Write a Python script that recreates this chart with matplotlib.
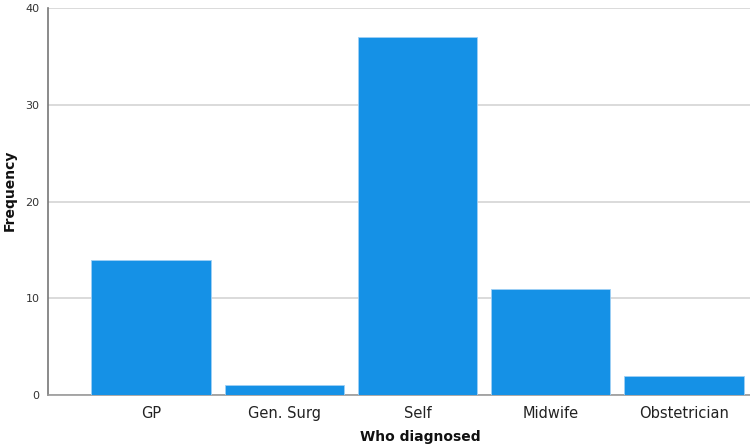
import matplotlib
matplotlib.use("Agg")
import matplotlib.pyplot as plt

categories = ["GP", "Gen. Surg", "Self", "Midwife", "Obstetrician"]
frequency = [14, 1, 37, 11, 2]
y_ticks = [0, 10, 20, 30, 40]

plt.rcParams['font.family'] = ['DejaVu Sans']

fig = plt.figure(figsize=(7.5, 4.48), dpi=100)
ax = fig.add_axes([0.064, 0.118, 0.936, 0.864])

x = list(range(len(categories)))
ax.bar(x, frequency, width=0.895, color="#1591e6", edgecolor="#9fd0f5",
       linewidth=0.6, zorder=3)

ax.set_xlim(-0.773, 4.495)
ax.set_ylim(0, 40)
ax.set_yticks(y_ticks)
ax.set_yticklabels([str(v) for v in y_ticks], fontsize=8, color="#333333")
ax.set_xticks(x)
ax.set_xticklabels(categories, fontsize=10.5, color="#222222")
ax.tick_params(axis="both", length=0, pad=6)
ax.tick_params(axis="x", pad=8)

ax.grid(axis="y", color="#d4d4d4", linewidth=1.2, zorder=0)
for s in ["top", "right"]:
    ax.spines[s].set_visible(False)
ax.spines["left"].set_color("#777777")
ax.spines["bottom"].set_color("#999999")
ax.spines["left"].set_linewidth(1.2)
ax.spines["bottom"].set_linewidth(1.2)

# labels placed by hand so they stay inside the small figure
ax.set_xlabel("Who diagnosed", fontsize=10, fontweight="bold", color="#111111")
ax.set_ylabel("Frequency", fontsize=10, fontweight="bold", color="#111111")
ax.xaxis.set_label_coords(0.53, -0.108)
ax.yaxis.set_label_coords(-0.055, 0.53)
ax.xaxis.label.set_va("center")
ax.yaxis.label.set_va("center")

fig.savefig("out.png", dpi=100)
